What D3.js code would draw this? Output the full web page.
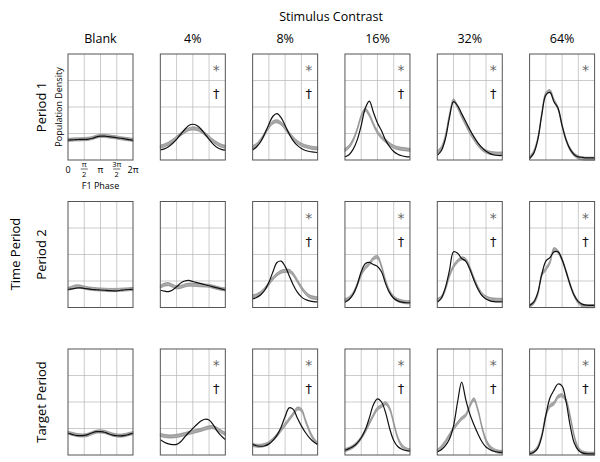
<!DOCTYPE html>
<html>
<head>
<meta charset="utf-8">
<script src="https://cdn.jsdelivr.net/npm/d3@7"></script>
<style>
  body { margin: 0; background: #fff; }
  svg { font-family: "Open Sans", sans-serif; }
</style>
</head>
<body>
<svg id="chart" width="600" height="462"></svg>
<script>
const contrasts = ["Blank", "4%", "8%", "16%", "32%", "64%"];
const periods = ["Period 1", "Period 2", "Target Period"];
const phaseTicks = [0, Math.PI / 2, Math.PI, 3 * Math.PI / 2, 2 * Math.PI];
const phases = d3.range(17).map(k => k * Math.PI / 8);

// black curves, one row per period, one array per contrast (units of grid lines)
const blackP1 = [
  [0.75,0.76,0.77,0.78,0.78,0.79,0.82,0.87,0.9,0.9,0.88,0.86,0.84,0.82,0.8,0.77,0.74],
  [0.38,0.42,0.5,0.62,0.78,0.97,1.15,1.3,1.35,1.3,1.17,0.98,0.78,0.6,0.47,0.4,0.37],
  [0.38,0.5,0.7,1.0,1.35,1.65,1.75,1.6,1.3,0.98,0.72,0.55,0.43,0.36,0.32,0.3,0.28],
  [0.12,0.2,0.4,0.75,1.3,1.95,2.22,1.8,1.4,1.1,0.75,0.5,0.32,0.22,0.16,0.13,0.12],
  [0.18,0.35,0.8,1.6,2.2,2.05,1.75,1.45,1.15,0.88,0.65,0.47,0.33,0.24,0.19,0.17,0.17],
  [0.06,0.25,0.75,1.7,2.45,2.55,2.2,1.95,1.3,0.75,0.4,0.2,0.12,0.1,0.08,0.08,0.08]
];
const grayP1 = [
  [0.76,0.77,0.78,0.78,0.79,0.8,0.83,0.88,0.91,0.91,0.89,0.87,0.85,0.82,0.8,0.78,0.76],
  [0.5,0.55,0.62,0.72,0.84,0.97,1.08,1.16,1.19,1.17,1.1,0.98,0.85,0.72,0.62,0.54,0.5],
  [0.48,0.58,0.75,1.0,1.25,1.42,1.46,1.38,1.2,1.0,0.82,0.68,0.58,0.52,0.48,0.45,0.44],
  [0.38,0.5,0.75,1.15,1.65,1.9,1.7,1.35,1.05,0.85,0.72,0.6,0.5,0.45,0.42,0.4,0.38],
  [0.3,0.45,0.9,1.7,2.25,2.0,1.65,1.35,1.05,0.8,0.58,0.42,0.32,0.27,0.25,0.24,0.25],
  [0.08,0.3,0.8,1.75,2.5,2.6,2.25,1.95,1.3,0.75,0.4,0.2,0.1,0.06,0.05,0.05,0.05]
];
const blackP2 = [
  [0.68,0.7,0.73,0.74,0.72,0.7,0.68,0.67,0.66,0.65,0.64,0.63,0.63,0.65,0.67,0.68,0.68],
  [0.65,0.62,0.6,0.66,0.78,0.92,1.0,1.02,0.98,0.94,0.9,0.86,0.82,0.78,0.74,0.7,0.66],
  [0.32,0.38,0.48,0.66,0.95,1.35,1.7,1.75,1.55,1.2,0.85,0.58,0.4,0.3,0.25,0.22,0.21],
  [0.2,0.3,0.5,0.85,1.35,1.65,1.7,1.62,1.55,1.35,0.9,0.55,0.35,0.25,0.2,0.18,0.18],
  [0.2,0.35,0.75,1.4,2.1,2.05,1.85,1.75,1.45,1.05,0.7,0.45,0.32,0.25,0.22,0.21,0.21],
  [0.08,0.2,0.55,1.25,1.75,1.88,2.1,2.1,1.8,1.35,0.85,0.45,0.22,0.12,0.09,0.08,0.08]
];
const grayP2 = [
  [0.7,0.75,0.8,0.79,0.75,0.72,0.7,0.69,0.68,0.67,0.66,0.66,0.66,0.67,0.68,0.69,0.7],
  [0.78,0.86,0.88,0.82,0.76,0.78,0.83,0.86,0.86,0.85,0.84,0.83,0.82,0.78,0.74,0.7,0.68],
  [0.42,0.46,0.55,0.7,0.9,1.1,1.25,1.35,1.38,1.38,1.25,1.0,0.75,0.55,0.42,0.37,0.35],
  [0.28,0.35,0.52,0.85,1.25,1.5,1.65,1.85,1.9,1.55,1.0,0.6,0.38,0.28,0.23,0.2,0.2],
  [0.28,0.38,0.7,1.2,1.55,1.75,1.85,1.8,1.5,1.1,0.75,0.5,0.38,0.32,0.3,0.29,0.29],
  [0.06,0.18,0.5,1.25,1.45,1.7,2.2,2.1,1.8,1.35,0.85,0.45,0.2,0.08,0.05,0.05,0.05]
];
const blackTarget = [
  [0.82,0.78,0.74,0.73,0.74,0.78,0.84,0.88,0.88,0.86,0.8,0.75,0.73,0.72,0.74,0.78,0.82],
  [0.58,0.48,0.42,0.39,0.4,0.5,0.68,0.85,1.0,1.15,1.28,1.35,1.32,1.15,0.9,0.72,0.58],
  [0.4,0.35,0.33,0.35,0.42,0.55,0.75,1.05,1.45,1.78,1.72,1.4,1.1,0.85,0.65,0.5,0.4],
  [0.18,0.24,0.32,0.45,0.65,0.95,1.4,1.9,2.12,2.0,1.6,1.0,0.55,0.32,0.22,0.17,0.15],
  [0.12,0.2,0.35,0.6,1.1,2.0,2.75,2.1,1.55,1.15,0.8,0.5,0.3,0.2,0.14,0.11,0.1],
  [0.05,0.1,0.25,0.7,1.5,2.15,2.45,2.68,2.6,2.0,1.1,0.45,0.18,0.08,0.05,0.04,0.04]
];
const grayTarget = [
  [0.84,0.8,0.76,0.74,0.74,0.77,0.83,0.88,0.89,0.87,0.82,0.77,0.74,0.73,0.75,0.79,0.83],
  [0.76,0.72,0.7,0.7,0.72,0.75,0.79,0.83,0.87,0.91,0.95,1.0,1.04,1.05,0.98,0.88,0.8],
  [0.38,0.35,0.35,0.38,0.45,0.58,0.75,0.95,1.15,1.35,1.55,1.75,1.7,1.3,0.9,0.6,0.42],
  [0.18,0.24,0.32,0.45,0.65,0.9,1.2,1.5,1.75,1.85,1.95,1.75,1.2,0.65,0.35,0.22,0.18],
  [0.15,0.3,0.5,0.75,1.0,1.2,1.38,1.5,1.85,2.1,1.7,1.05,0.55,0.3,0.18,0.13,0.12],
  [0.06,0.12,0.3,0.75,1.5,1.85,1.95,2.2,2.25,2.05,1.45,0.7,0.25,0.1,0.06,0.05,0.05]
];
const blackRows = [blackP1, blackP2, blackTarget];
const grayRows = [grayP1, grayP2, grayTarget];

// significance marks per panel
const starMarks = [[0,1,1,1,1,1],[0,0,1,1,1,1],[0,1,1,1,1,1]];
const daggerMarks = [[0,1,1,1,1,0],[0,0,1,1,1,1],[0,1,1,1,1,1]];

const pw = 65, ph = 106;
const colX = d3.scaleLinear().domain([0, 5]).range([68, 529.6]);
const rowY = d3.scaleLinear().domain([0, 2]).range([54, 349]);
const x = d3.scaleLinear().domain([0, 2 * Math.PI]).range([0, pw]);
const y = d3.scaleLinear().domain([0, 4]).range([ph, 0]);
const band = 0.06;

const svg = d3.select('#chart');

svg.append('text')
  .attr('x', 331).attr('y', 21)
  .attr('text-anchor', 'middle')
  .style('font-size', '12.5px')
  .text('Stimulus Contrast');

svg.selectAll('.colhead')
  .data(contrasts)
  .join('text')
    .attr('x', (d, i) => colX(i) + pw / 2)
    .attr('y', 43)
    .attr('text-anchor', 'middle')
    .style('font-size', '12.5px')
    .text(d => d);

svg.append('text')
  .attr('transform', 'translate(20,254) rotate(-90)')
  .attr('text-anchor', 'middle')
  .style('font-size', '13px')
  .text('Time Period');

svg.selectAll('.rowhead')
  .data(periods)
  .join('text')
    .attr('transform', (d, i) => `translate(46,${rowY(i) + ph / 2}) rotate(-90)`)
    .attr('text-anchor', 'middle')
    .style('font-size', '13px')
    .text(d => d);

svg.append('text')
  .attr('transform', `translate(62,${rowY(0) + ph / 2}) rotate(-90)`)
  .attr('text-anchor', 'middle')
  .style('font-size', '9px')
  .text('Population Density');

const line = d3.line()
  .x((d, i) => x(phases[i]))
  .y(d => y(d))
  .curve(d3.curveCatmullRom.alpha(0.5));

const area = d3.area()
  .x((d, i) => x(phases[i]))
  .y0(d => y(d - band))
  .y1(d => y(d + band))
  .curve(d3.curveCatmullRom.alpha(0.5));

periods.forEach((p, r) => {
  contrasts.forEach((c, ci) => {
    const g = svg.append('g')
      .attr('transform', `translate(${colX(ci)},${rowY(r)})`);

    g.append('g')
      .selectAll('line.v')
      .data(phaseTicks.slice(1, 4))
      .join('line')
        .attr('x1', d => x(d)).attr('x2', d => x(d))
        .attr('y1', 0).attr('y2', ph)
        .attr('stroke', '#b5b5b5').attr('stroke-width', 0.7);

    g.append('g')
      .selectAll('line.h')
      .data([1, 2, 3])
      .join('line')
        .attr('x1', 0).attr('x2', pw)
        .attr('y1', d => y(d)).attr('y2', d => y(d))
        .attr('stroke', '#b5b5b5').attr('stroke-width', 0.7);

    const gray = grayRows[r][ci];
    g.append('path')
      .attr('d', area(gray))
      .attr('fill', '#a9a9a9')
      .attr('stroke', '#7a7a7a')
      .attr('stroke-width', 0.6);

    g.append('path')
      .attr('d', line(blackRows[r][ci]))
      .attr('fill', 'none')
      .attr('stroke', '#111')
      .attr('stroke-width', 1.2);

    g.append('rect')
      .attr('width', pw).attr('height', ph)
      .attr('fill', 'none')
      .attr('stroke', '#555')
      .attr('stroke-width', 1);

    if (starMarks[r][ci]) {
      g.append('text')
        .attr('x', pw - 9).attr('y', 21)
        .attr('text-anchor', 'middle')
        .attr('fill', '#666')
        .style('font-family', '"DejaVu Sans", sans-serif')
        .style('font-size', '14px')
        .text('*');
    }
    if (daggerMarks[r][ci]) {
      g.append('text')
        .attr('x', pw - 9).attr('y', 44)
        .attr('text-anchor', 'middle')
        .attr('fill', '#111')
        .style('font-family', '"DejaVu Sans", sans-serif')
        .style('font-size', '13px')
        .text('†');
    }
  });
});

// phase axis labels under the first panel
const lab = svg.append('g')
  .attr('transform', `translate(${colX(0)},${rowY(0) + ph})`);

const tickText = [
  { v: phaseTicks[0], num: '0' },
  { v: phaseTicks[1], num: 'π', den: '2' },
  { v: phaseTicks[2], num: 'π' },
  { v: phaseTicks[3], num: '3π', den: '2' },
  { v: phaseTicks[4], num: '2π' }
];
tickText.forEach(t => {
  if (t.den) {
    lab.append('text').attr('x', x(t.v)).attr('y', 6.5)
      .attr('text-anchor', 'middle').style('font-size', '7.5px').text(t.num);
    lab.append('line')
      .attr('x1', x(t.v) - 3.5).attr('x2', x(t.v) + 3.5)
      .attr('y1', 9).attr('y2', 9)
      .attr('stroke', '#000').attr('stroke-width', 0.6);
    lab.append('text').attr('x', x(t.v)).attr('y', 17)
      .attr('text-anchor', 'middle').style('font-size', '7.5px').text(t.den);
  } else {
    lab.append('text').attr('x', x(t.v)).attr('y', 13)
      .attr('text-anchor', 'middle').style('font-size', '9px').text(t.num);
  }
});
lab.append('text')
  .attr('x', pw / 2).attr('y', 29)
  .attr('text-anchor', 'middle')
  .style('font-size', '9px')
  .text('F1 Phase');
</script>
</body>
</html>
